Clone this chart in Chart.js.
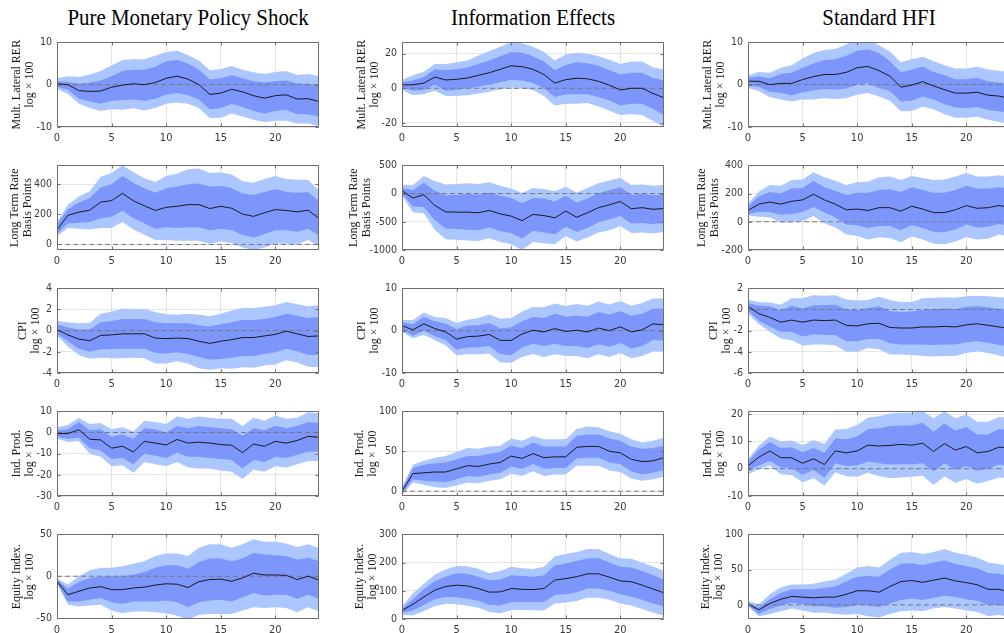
<!DOCTYPE html>
<html><head><meta charset="utf-8">
<script src="https://cdn.jsdelivr.net/npm/chart.js@4.4.0/dist/chart.umd.min.js"></script>
<style>
html,body{margin:0;padding:0;background:#fff;width:1004px;height:633px;overflow:hidden;position:relative}
.panel{position:absolute}
.ttl{position:absolute;top:5px;font-family:"Liberation Serif","Times New Roman",serif;font-size:23px;color:#000;white-space:nowrap;transform:translateX(-50%) scaleX(0.91)}
</style></head><body>
<script>
// ---------- categories / tick labels ----------
const horizon = [0,1,2,3,4,5,6,7,8,9,10,11,12,13,14,15,16,17,18,19,20,21,22,23,24];
const xTicks = [0,5,10,15,20];
const columnTitles = ['Pure Monetary Policy Shock','Information Effects','Standard HFI'];
const rowLabels = [['Mult. Lateral RER','log \u00d7 100'],['Long Term Rate','Basis Points'],['CPI','log \u00d7 100'],['Ind. Prod.','log \u00d7 100'],['Equity Index.','log \u00d7 100']];
const zeroRefX = [0,24];
const zeroRefY = [0,0];

// ---------- Pure Monetary Policy Shock ----------
const pm_rer_line  = [0.2,0.0,-1.4,-1.6,-1.5,-0.6,-0.1,0.2,0.0,0.5,1.5,2.0,1.3,0.0,-2.3,-2.0,-1.1,-1.7,-2.6,-3.2,-2.6,-2.4,-3.4,-3.3,-4.0];
const pm_rer_inHi  = [0.8,0.6,0.2,0.5,1.0,2.0,3.2,3.5,3.5,4.2,5.5,5.8,5.0,3.5,1.2,1.5,2.2,1.5,0.8,0.5,0.8,1.0,0.3,0.2,-0.3];
const pm_rer_inLo  = [-0.5,-1.2,-3.3,-4.0,-4.5,-3.8,-3.6,-3.5,-3.8,-3.3,-2.4,-2.0,-2.5,-3.5,-5.8,-5.6,-4.5,-5.3,-6.2,-6.8,-6.2,-6.0,-7.0,-7.0,-7.6];
const pm_rer_outHi = [1.5,2.0,1.8,2.4,3.2,4.5,5.8,6.0,6.0,6.8,7.7,8.0,7.0,5.7,3.4,3.7,4.4,3.5,2.9,2.5,3.0,3.2,2.3,2.5,2.0];
const pm_rer_outLo = [-1.0,-2.2,-4.5,-5.5,-6.2,-5.8,-5.9,-5.6,-6.1,-5.5,-4.5,-4.2,-4.5,-5.5,-7.9,-7.8,-6.8,-7.5,-8.3,-8.9,-8.5,-8.5,-9.2,-9.2,-9.8];

const pm_ltr_line  = [97,194,215,228,282,292,340,290,258,226,247,254,265,265,239,254,241,202,187,211,232,226,217,228,172];
const pm_ltr_inHi  = [135,235,280,310,380,400,455,410,375,345,375,385,400,405,385,390,375,340,330,350,370,350,345,350,290];
const pm_ltr_inLo  = [70,140,145,150,175,185,225,175,140,105,115,110,115,115,95,105,95,65,45,70,95,95,85,105,60];
const pm_ltr_outHi = [150,265,320,355,450,475,527,480,440,415,455,470,500,505,475,480,465,420,410,435,455,435,430,430,360];
const pm_ltr_outLo = [55,110,105,100,110,110,150,100,65,30,30,25,25,25,5,20,10,-20,-37,-20,5,5,0,30,-10];

const pm_cpi_line  = [0.1,-0.4,-0.8,-0.95,-0.45,-0.4,-0.3,-0.3,-0.3,-0.7,-0.75,-0.7,-0.75,-1.0,-1.2,-1.0,-0.85,-0.65,-0.65,-0.5,-0.35,-0.05,-0.3,-0.55,-0.5];
const pm_cpi_inHi  = [0.6,0.3,0.1,0.1,0.8,0.9,1.1,1.1,1.1,0.8,0.7,0.7,0.7,0.5,0.4,0.6,0.8,1.0,1.0,1.1,1.3,1.6,1.4,1.2,1.3];
const pm_cpi_inLo  = [-0.3,-1.0,-1.7,-2.0,-1.75,-1.75,-1.7,-1.7,-1.7,-2.1,-2.15,-2.05,-2.2,-2.5,-2.75,-2.65,-2.55,-2.4,-2.4,-2.2,-2.05,-1.7,-1.95,-2.3,-2.3];
const pm_cpi_outHi = [0.9,0.8,0.7,0.75,1.6,1.8,2.1,2.05,2.05,1.75,1.55,1.5,1.6,1.5,1.35,1.6,1.9,2.15,2.15,2.25,2.4,2.7,2.5,2.3,2.4];
const pm_cpi_outLo = [-0.5,-1.5,-2.3,-2.65,-2.55,-2.6,-2.6,-2.55,-2.6,-3.1,-3.1,-2.9,-3.1,-3.55,-3.7,-3.55,-3.6,-3.45,-3.5,-3.3,-3.2,-2.8,-3.0,-3.4,-3.45];

const pm_ip_line  = [-0.5,-0.5,1.3,-3.2,-3.5,-7.4,-6.5,-9.2,-4.2,-5.0,-5.9,-3.3,-5.0,-4.6,-5.0,-5.7,-6.0,-9.5,-5.5,-6.5,-4.2,-5.0,-3.8,-1.8,-2.3];
const pm_ip_inHi  = [1.0,1.5,5.0,1.0,1.5,-2.0,-1.0,-3.0,2.0,1.5,0.0,3.0,2.0,3.0,2.5,2.0,1.5,-1.5,2.0,1.0,3.2,2.0,3.0,5.0,4.5];
const pm_ip_inLo  = [-2.0,-3.0,-2.5,-7.5,-8.5,-12.5,-12.0,-15.0,-10.0,-11.0,-12.0,-9.5,-11.5,-11.5,-12.0,-12.5,-13.0,-17.0,-13.0,-14.0,-11.5,-12.0,-10.5,-9.0,-9.0];
const pm_ip_outHi = [2.5,3.5,7.0,4.0,4.5,1.5,2.5,0.5,5.5,5.0,4.0,7.5,6.5,7.5,7.0,6.5,6.5,3.0,7.0,5.5,8.0,6.5,7.0,9.5,9.0];
const pm_ip_outLo = [-3.0,-4.5,-4.0,-10.0,-11.5,-16.0,-15.5,-19.0,-14.0,-15.0,-16.0,-14.0,-16.5,-17.0,-17.0,-18.0,-18.5,-22.0,-17.5,-18.5,-16.0,-16.5,-15.0,-13.5,-13.5];

const pm_eq_line  = [-6,-22,-18,-14,-12.5,-16,-16,-14,-13,-10.5,-9,-9.5,-13.5,-6.5,-4,-3.5,-6,-2,3.5,1.5,1.5,1,-4,0,-4.5];
const pm_eq_inHi  = [-4,-15,-7,-2,0,0,0,2,5,10,13,13,9,17,21,21,18,21,28,26,25,24,20,22,18];
const pm_eq_inLo  = [-8,-30,-30,-28,-26,-31,-33,-30,-30,-30,-29,-31,-37,-31,-29,-28,-30,-25,-20,-23,-22,-22,-27,-22,-27];
const pm_eq_outHi = [-3,-10,0,7,10,10,12,15,18,24,27,27,24,34,38,38,34,38,44,41,41,39,35,38,34];
const pm_eq_outLo = [-9,-34,-36,-35,-34,-41,-44,-42,-42,-43,-44,-47,-52,-46,-45,-45,-45,-41,-37,-38,-37,-38,-43,-37,-42];

// ---------- Information Effects ----------
const ie_rer_line  = [2,2,3,6.5,4.8,5.2,6,7.5,9,11,13,12.5,11,8,3,5,5.8,5.5,4,1.8,-1,0,0,-3,-5.5];
const ie_rer_inHi  = [3.5,4.5,6.5,11,10.5,11,12,14,16,18.5,21,20.5,18.5,15.5,10.5,13.5,15,14.5,13,10.5,8,9,9,6,4.5];
const ie_rer_inLo  = [0.5,-1.5,-1,2,-1.5,-1,0,1,2,3.5,5,4.5,3,0,-5,-3.5,-3.5,-3.5,-5,-7,-10,-9,-9,-12,-15.5];
const ie_rer_outHi = [5,7.5,9.5,14,14,15,16,19,21.5,24,26.6,26,24,21,16,19.5,20.5,20,18.5,16.5,14,15.5,15.5,12,11];
const ie_rer_outLo = [-1,-4,-3.5,-1.5,-4.5,-4.5,-4,-3,-2,-0.5,0.5,0,-1,-4.5,-10,-9,-9,-8.5,-10.5,-13,-15.5,-15,-15.5,-19,-22.4];

const ie_ltr_line  = [50,-80,-20,-210,-325,-330,-330,-340,-300,-360,-400,-480,-370,-390,-430,-310,-420,-340,-250,-200,-140,-270,-250,-280,-265];
const ie_ltr_inHi  = [100,60,190,50,-30,-20,-10,-20,20,-40,-80,-170,-80,-90,-140,-40,-160,-90,10,60,110,-20,-10,-30,-30];
const ie_ltr_inLo  = [0,-230,-240,-470,-620,-630,-640,-650,-600,-670,-700,-790,-660,-690,-720,-590,-680,-610,-510,-460,-400,-530,-520,-540,-520];
const ie_ltr_outHi = [150,150,310,220,160,170,180,170,200,140,90,10,100,80,40,120,20,100,180,230,280,150,160,140,150];
const ie_ltr_outLo = [-40,-330,-350,-640,-810,-820,-830,-840,-790,-860,-900,-1000,-860,-880,-900,-750,-850,-780,-690,-650,-580,-700,-690,-710,-680];

const ie_cpi_line  = [1.2,0.2,1.6,0.5,-0.3,-2.0,-1.4,-1.3,-0.9,-2.3,-2.3,-0.8,0.1,-0.3,0.5,-0.2,0.1,-0.3,0.6,0,0.9,-0.3,0.2,1.6,1.4];
const ie_cpi_inHi  = [2.0,1.5,3.2,2.2,1.6,0.4,1.2,1.3,1.8,0.5,0.8,2.2,3.2,3.0,4.0,3.3,3.6,3.3,4.4,3.8,4.6,3.5,4.0,5.2,5.2];
const ie_cpi_inLo  = [0.3,-1.2,0,-1.3,-2.2,-4.5,-4.0,-3.9,-3.6,-5.5,-5.8,-4.0,-3.1,-3.6,-3.1,-3.6,-3.6,-4.1,-3.2,-3.8,-2.9,-4.2,-3.6,-2.2,-2.4];
const ie_cpi_outHi = [2.5,2.5,4.3,3.2,3.0,1.8,2.6,3.0,3.8,2.8,3.0,4.5,5.6,5.5,6.4,5.8,6.3,5.9,6.9,6.2,7.0,5.9,6.5,7.6,7.6];
const ie_cpi_outLo = [-0.3,-1.8,-1.0,-2.2,-3.5,-5.8,-5.6,-5.6,-5.4,-7.5,-7.6,-6.2,-5.5,-6.2,-5.6,-6.0,-6.0,-6.5,-5.6,-6.2,-5.3,-6.5,-6.0,-4.9,-5.0];

const ie_ip_line  = [0,22,23,24,24,28,32,31,34,36,44,41,47,42,43,43,55,56,56,50,48,40,37,38,42];
const ie_ip_inHi  = [3,29,33,35,36,40,44,44,47,49,57,54,61,56,56,56,69,71,71,66,63,56,53,54,57];
const ie_ip_inLo  = [-3,15,13,12,11,15,19,18,21,23,31,28,34,28,29,29,41,42,42,36,34,25,21,23,27];
const ie_ip_outHi = [5,33,38,42,44,49,54,53,56,57,66,63,69,65,65,65,78,81,80,75,72,65,61,63,67];
const ie_ip_outLo = [-5,11,8,5,4,7,11,10,13,15,22,19,25,19,21,21,32,32,32,26,24,16,13,15,18];

const ie_eq_line  = [30,52,78,102,115,120,117,108,95,96,108,105,104,108,138,143,150,160,160,148,135,132,120,106,93];
const ie_eq_inHi  = [37,70,105,135,150,162,160,150,137,140,155,152,150,155,190,197,205,215,215,200,185,182,170,155,140];
const ie_eq_inLo  = [22,30,50,70,78,77,72,65,50,48,60,60,60,60,85,88,95,108,108,100,88,80,68,55,45];
const ie_eq_outHi = [45,90,125,157,175,188,187,178,163,170,185,180,177,185,222,230,237,248,248,230,215,213,200,186,170];
const ie_eq_outLo = [15,12,28,45,54,52,47,40,25,20,32,32,31,30,55,58,64,75,75,68,55,48,35,22,12];

// ---------- Standard HFI ----------
const hf_rer_line  = [0.8,0.8,0,0.3,0.3,1.2,1.9,2.4,2.4,2.9,4.0,4.3,3.3,2.0,-0.6,-0.1,0.7,-0.3,-1.2,-2.0,-2.0,-1.8,-2.5,-2.7,-3.3];
const hf_rer_inHi  = [1.6,2.0,1.5,2.5,2.8,4.0,5.0,5.8,6.0,6.8,8.0,8.3,7.5,5.5,3.0,3.5,4.3,3.0,2.2,1.3,1.3,1.6,0.8,0.5,0.2];
const hf_rer_inLo  = [-0.3,-0.5,-1.7,-2.0,-2.5,-1.8,-1.4,-1.0,-1.2,-0.9,0,0.3,-0.8,-1.5,-4.0,-3.8,-2.8,-3.5,-4.6,-5.4,-5.5,-5.3,-6.0,-6.3,-6.8];
const hf_rer_outHi = [2.2,3.0,2.8,4.0,4.6,6.2,7.5,8.2,8.4,9.5,10.8,10.8,9.3,7.8,5.3,6.0,6.6,5.5,4.6,3.8,3.8,4.2,3.6,3.3,3.0];
const hf_rer_outLo = [-0.8,-1.5,-3.0,-3.5,-4.0,-3.5,-3.5,-3.2,-3.4,-3.2,-2.4,-2.0,-2.8,-3.8,-6.3,-6.2,-5.2,-5.8,-7.0,-7.8,-7.8,-7.6,-8.3,-8.8,-9.4];

const hf_ltr_line  = [80,125,140,125,145,155,195,155,125,85,90,80,100,100,75,110,90,65,65,85,115,95,100,115,100];
const hf_ltr_inHi  = [110,180,210,200,235,240,290,245,220,190,205,205,225,230,210,245,225,205,205,225,255,235,235,245,235];
const hf_ltr_inLo  = [55,70,70,50,55,70,105,65,30,-20,-25,-45,-30,-30,-60,-25,-45,-70,-75,-55,-20,-40,-35,-15,-30];
const hf_ltr_outHi = [130,215,260,255,295,300,350,315,290,260,280,285,315,320,295,325,310,295,300,320,345,320,320,330,320];
const hf_ltr_outLo = [45,35,30,-5,-5,5,40,-10,-40,-90,-100,-125,-110,-115,-145,-105,-125,-155,-160,-140,-110,-125,-120,-90,-110];

const hf_cpi_line  = [0.3,-0.4,-0.75,-1.2,-1.0,-1.2,-1.0,-1.05,-1.0,-1.5,-1.55,-1.35,-1.3,-1.7,-1.75,-1.75,-1.65,-1.65,-1.6,-1.65,-1.45,-1.35,-1.5,-1.65,-1.8];
const hf_cpi_inHi  = [0.6,0.35,0.3,-0.1,0.35,0.1,0.4,0.4,0.45,0,-0.05,0.15,0.3,-0.15,-0.25,-0.2,-0.05,0.05,0.1,0.05,0.25,0.3,0.2,0.05,0];
const hf_cpi_inLo  = [-0.1,-1.1,-1.6,-2.1,-2.1,-2.55,-2.35,-2.4,-2.4,-3.0,-3.0,-2.8,-2.8,-3.2,-3.3,-3.3,-3.3,-3.35,-3.3,-3.3,-3.1,-3.0,-3.15,-3.35,-3.5];
const hf_cpi_outHi = [0.9,0.7,0.65,0.45,1.05,1.05,1.35,1.3,1.35,0.95,0.85,0.9,1.2,0.9,0.7,0.7,1.05,1.1,1.15,1.1,1.25,1.3,1.25,1.15,1.1];
const hf_cpi_outLo = [-0.4,-1.4,-2.1,-2.75,-2.9,-3.4,-3.3,-3.3,-3.4,-4.0,-4.0,-3.65,-3.75,-4.25,-4.25,-4.3,-4.4,-4.45,-4.4,-4.4,-4.1,-3.95,-4.1,-4.35,-4.6];

const hf_ip_line  = [1,4.2,6.5,4.0,4.0,2.0,3.6,1.5,6.5,5.8,6.5,8.6,8.3,8.5,8.9,8.6,9.3,6.3,9.2,6.8,8.1,5.8,6.3,7.9,7.5];
const hf_ip_inHi  = [2.5,7,9.8,7.6,7.8,6.0,7.6,5.8,11,10.8,11.8,14.5,14.8,15.5,15.8,15.8,16.8,13.5,16.5,14,15.2,12.5,12.5,14.5,14];
const hf_ip_inLo  = [-0.5,1.2,2.8,0.5,0.2,-2.2,-0.5,-3.3,2.0,1.0,1.2,2.6,2.0,1.5,1.6,1.6,2.0,-1.0,2.0,-0.5,1.0,-0.8,0,1.5,1.0];
const hf_ip_outHi = [3.5,8.5,11.8,10,10.3,8.7,10.5,9,14.3,14.5,16,18.7,19.2,20.2,20.5,20.5,21,18.5,21,18.5,19.8,17.2,17.2,19,18.5];
const hf_ip_outLo = [-2,-0.2,1.2,-2.0,-2.3,-5.0,-3.5,-6.2,-1.3,-2.8,-3.0,-1.5,-2.8,-3.5,-3.2,-3.0,-2.6,-6.0,-2.8,-5.2,-3.8,-5.5,-4.5,-3.2,-3.5];

const hf_eq_line  = [1,-7,2,8,12,11,10,11,11,15,20,20,18,26,33,34.5,32,35,38,34,31.5,28.5,22,22,18];
const hf_eq_inHi  = [3,-3,8,17,22,22,22,24,26,33,40,41,40,50,58,59,56,60,63,58,55,52,45,44,40];
const hf_eq_inLo  = [-1,-13,-6,-1,3,1,-2,-2,-4,-3,0,-1,-3,2,7,9,7,10,13,11,8,6,0,0,-3];
const hf_eq_outHi = [5,1,15,25,29,29,30,33,36,44,53,55,53,64,74,75,72,75,79,74,71,67,60,58,54];
const hf_eq_outLo = [-2,-16,-13,-9,-5,-8,-11,-11,-13,-14,-13,-16,-18,-13,-9,-8,-9,-5,-3,-5,-8,-10,-16,-14,-18];

// ---------- axis limits and tick labels (per panel) ----------
const yLimits = [
  [[-10,10],[-37,527],[-4,4],[-30,10],[-51,50]],
  [[-22.4,26.6],[-1000,500],[-10,10],[-6,100],[0,300]],
  [[-10,10],[-200,400],[-6,2],[-10,21],[-20,100]]
];
const yTickSets = [
  [[-10,0,10],[0,200,400],[-4,-2,0,2,4],[-30,-20,-10,0,10],[-50,0,50]],
  [[-20,0,20],[-1000,-500,0,500],[-10,0,10],[0,50,100],[0,100,200,300]],
  [[-10,0,10],[-200,0,200,400],[-6,-4,-2,0,2],[-10,0,10,20],[0,50,100]]
];

const seriesTable = [
  [[pm_rer_line,pm_rer_inLo,pm_rer_inHi,pm_rer_outLo,pm_rer_outHi],
   [pm_ltr_line,pm_ltr_inLo,pm_ltr_inHi,pm_ltr_outLo,pm_ltr_outHi],
   [pm_cpi_line,pm_cpi_inLo,pm_cpi_inHi,pm_cpi_outLo,pm_cpi_outHi],
   [pm_ip_line,pm_ip_inLo,pm_ip_inHi,pm_ip_outLo,pm_ip_outHi],
   [pm_eq_line,pm_eq_inLo,pm_eq_inHi,pm_eq_outLo,pm_eq_outHi]],
  [[ie_rer_line,ie_rer_inLo,ie_rer_inHi,ie_rer_outLo,ie_rer_outHi],
   [ie_ltr_line,ie_ltr_inLo,ie_ltr_inHi,ie_ltr_outLo,ie_ltr_outHi],
   [ie_cpi_line,ie_cpi_inLo,ie_cpi_inHi,ie_cpi_outLo,ie_cpi_outHi],
   [ie_ip_line,ie_ip_inLo,ie_ip_inHi,ie_ip_outLo,ie_ip_outHi],
   [ie_eq_line,ie_eq_inLo,ie_eq_inHi,ie_eq_outLo,ie_eq_outHi]],
  [[hf_rer_line,hf_rer_inLo,hf_rer_inHi,hf_rer_outLo,hf_rer_outHi],
   [hf_ltr_line,hf_ltr_inLo,hf_ltr_inHi,hf_ltr_outLo,hf_ltr_outHi],
   [hf_cpi_line,hf_cpi_inLo,hf_cpi_inHi,hf_cpi_outLo,hf_cpi_outHi],
   [hf_ip_line,hf_ip_inLo,hf_ip_inHi,hf_ip_outLo,hf_ip_outHi],
   [hf_eq_line,hf_eq_inLo,hf_eq_inHi,hf_eq_outLo,hf_eq_outHi]]
];

// ---------- layout & style ----------
const colLeft = [57, 402, 748];
const rowTop = [39, 162, 285, 408, 531];
const PW = 262, PH = 88, YW = 57, PT = 8, XH = 22, PR = 10;
const LIGHT = 'rgb(172,198,255)';
const DARK = 'rgb(124,150,252)';
const AXIS = 'rgb(110,110,110)';
const TICKCOL = '#3a3a3a';
const SANS = '"Liberation Sans Narrow", "DejaVu Sans Condensed", "Arial Narrow", sans-serif';
const SERIF = '"Liberation Serif", "Times New Roman", serif';
const YTICK_SIZE = 10.5, YTICK_PAD = 5, TITLE_LH = 13;

const measureCtx = document.createElement('canvas').getContext('2d');
measureCtx.font = YTICK_SIZE + 'px ' + SANS;

const boxPlugin = {
  id: 'boxPlugin',
  afterDraw(chart) {
    const {ctx, chartArea: a, scales} = chart;
    const L = Math.round(a.left) + 0.5, T = Math.round(a.top) + 0.5;
    const R = Math.round(a.right) - 0.5, B = Math.round(a.bottom) - 0.5;
    ctx.save();
    ctx.strokeStyle = AXIS;
    ctx.lineWidth = 1;
    ctx.beginPath();
    ctx.rect(L, T, R - L, B - T);
    scales.x.ticks.forEach(t => {
      const px = Math.round(scales.x.getPixelForValue(t.value)) + 0.5;
      ctx.moveTo(px, B); ctx.lineTo(px, B - 3);
      ctx.moveTo(px, T); ctx.lineTo(px, T + 3);
    });
    scales.y.ticks.forEach(t => {
      const py = Math.round(scales.y.getPixelForValue(t.value)) + 0.5;
      ctx.moveTo(L, py); ctx.lineTo(L + 3, py);
      ctx.moveTo(R, py); ctx.lineTo(R - 3, py);
    });
    ctx.stroke();
    ctx.restore();
  }
};

function pts(arr) { return horizon.map((h, i) => ({x: h, y: arr[i]})); }

columnTitles.forEach((t, c) => {
  const d = document.createElement('div');
  d.className = 'ttl';
  d.textContent = t;
  d.style.left = (colLeft[c] + PW / 2) + 'px';
  document.body.appendChild(d);
});

for (let c = 0; c < 3; c++) {
  for (let r = 0; r < 5; r++) {
    const [line, inLo, inHi, outLo, outHi] = seriesTable[c][r];
    const W = YW + PW + PR, H = PT + PH + XH;
    const div = document.createElement('div');
    div.className = 'panel';
    div.style.left = (colLeft[c] - YW) + 'px';
    div.style.top = (rowTop[r] - PT) + 'px';
    div.style.width = W + 'px';
    div.style.height = H + 'px';
    const cv = document.createElement('canvas');
    cv.width = W; cv.height = H;
    cv.style.width = W + 'px'; cv.style.height = H + 'px';
    div.appendChild(cv);
    document.body.appendChild(div);

    const yt = yTickSets[c][r];
    // place the y label just left of the widest tick label (as MATLAB does)
    const maxW = Math.max(...yt.map(v => measureCtx.measureText(String(v)).width));
    const labelLeft = YW - YTICK_PAD - maxW;
    const titlePad = Math.max(2, labelLeft - 6.5 - TITLE_LH - TITLE_LH / 2);

    new Chart(cv, {
      type: 'line',
      data: {
        datasets: [
          {data: pts(outHi), borderWidth: 0, pointRadius: 0, fill: false, order: 3, tension: 0},
          {data: pts(outLo), borderWidth: 0, pointRadius: 0, fill: {target: 0}, backgroundColor: LIGHT, order: 3, tension: 0},
          {data: pts(inHi), borderWidth: 0, pointRadius: 0, fill: false, order: 2, tension: 0},
          {data: pts(inLo), borderWidth: 0, pointRadius: 0, fill: {target: 2}, backgroundColor: DARK, order: 2, tension: 0},
          {data: zeroRefX.map((x, i) => ({x, y: zeroRefY[i]})), borderColor: 'rgb(120,120,120)', borderWidth: 1, borderDash: [5, 3], pointRadius: 0, fill: false, order: 1},
          {data: pts(line), borderColor: '#1b1b1b', borderWidth: 1, pointRadius: 0, fill: false, order: 0, tension: 0}
        ]
      },
      options: {
        responsive: false,
        animation: false,
        devicePixelRatio: 1,
        layout: {padding: {top: PT, right: PR, left: 0, bottom: 0}},
        plugins: {legend: {display: false}, tooltip: {enabled: false}},
        scales: {
          x: {
            type: 'linear', min: 0, max: 24, z: 1,
            afterBuildTicks: s => { s.ticks = xTicks.map(v => ({value: v})); },
            afterFit: s => { s.height = XH; },
            grid: {color: 'rgba(0,0,0,0.10)', drawTicks: false},
            border: {display: false},
            ticks: {padding: 5, color: TICKCOL, font: {family: SANS, size: 11}, maxRotation: 0, autoSkip: false,
                    callback: v => String(v)}
          },
          y: {
            type: 'linear', min: yLimits[c][r][0], max: yLimits[c][r][1], z: 1,
            afterBuildTicks: s => { s.ticks = yt.map(v => ({value: v})); },
            afterFit: s => { s.width = YW; },
            grid: {color: 'rgba(0,0,0,0.10)', drawTicks: false},
            border: {display: false},
            ticks: {padding: YTICK_PAD, color: TICKCOL, font: {family: SANS, size: YTICK_SIZE}, autoSkip: false,
                    callback: v => String(v)},
            title: {display: true, text: rowLabels[r], color: '#1a1a1a',
                    font: {family: SERIF, size: 12, lineHeight: TITLE_LH / 12}, padding: {top: titlePad, bottom: 0}}
          }
        }
      },
      plugins: [boxPlugin]
    });
  }
}
</script>
</body></html>
